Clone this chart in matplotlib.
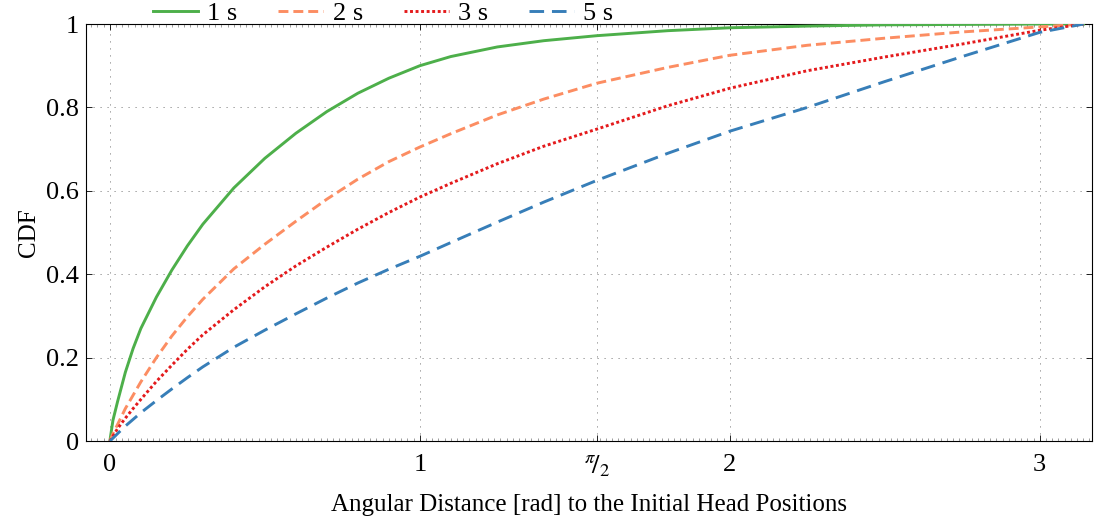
import matplotlib
matplotlib.use("Agg")
import matplotlib.pyplot as plt
import numpy as np
from matplotlib.ticker import MultipleLocator

plt.rcParams["font.family"] = ["Liberation Serif", "DejaVu Serif"]
plt.rcParams["mathtext.fontset"] = "stix"

# angular distance [rad] where the CDFs were read
dist = [0, 0.01, 0.025, 0.05, 0.075, 0.1, 0.15, 0.2, 0.25, 0.3, 0.4, 0.5, 0.6, 0.7,
        0.8, 0.9, 1.0, 1.1, 1.25, 1.4, 1.571, 1.8, 2.0, 2.25, 2.5, 2.75, 3.0, 3.1416]

cdf_1s = [0, 0.05, 0.095, 0.165, 0.222, 0.27, 0.345, 0.41, 0.468, 0.52, 0.607, 0.678,
          0.738, 0.79, 0.834, 0.870, 0.9, 0.922, 0.945, 0.960, 0.972, 0.984, 0.991,
          0.995, 0.998, 0.999, 1.0, 1.0]
cdf_2s = [0, 0.018, 0.04, 0.078, 0.11, 0.142, 0.2, 0.252, 0.298, 0.34, 0.413, 0.472,
          0.527, 0.58, 0.628, 0.67, 0.705, 0.737, 0.782, 0.82, 0.858, 0.896, 0.925,
          0.949, 0.966, 0.981, 0.993, 1.0]
cdf_3s = [0, 0.012, 0.03, 0.055, 0.078, 0.1, 0.143, 0.182, 0.22, 0.255, 0.315, 0.37,
          0.42, 0.465, 0.508, 0.548, 0.585, 0.618, 0.665, 0.707, 0.748, 0.804, 0.846,
          0.888, 0.921, 0.952, 0.985, 1.0]
cdf_5s = [0, 0.007, 0.018, 0.036, 0.052, 0.068, 0.097, 0.125, 0.152, 0.178, 0.225, 0.266,
          0.305, 0.343, 0.379, 0.412, 0.443, 0.476, 0.525, 0.573, 0.625, 0.69, 0.743,
          0.80, 0.862, 0.922, 0.98, 1.0]

labels = ["1 s", "2 s", "3 s", "5 s"]
colors = ["#4daf4a", "#fc8d62", "#e41a1c", "#377eb8"]
styles = ["-", (0, (3.4, 1.7)), (0, (1, 0.9)), (0, (5.0, 2.7))]

xticks = [0, 1, np.pi / 2, 2, 3]
xticklabels = ["0", "1", r"$^{\pi}\!/_{2}$", "2", "3"]
yticks = [0, 0.2, 0.4, 0.6, 0.8, 1]
yticklabels = ["0", "0.2", "0.4", "0.6", "0.8", "1"]

fig = plt.figure(figsize=(10.94, 5.22), dpi=100)
ax = fig.add_axes([0.0786, 0.155, 0.9194, 0.799])

for y, lab, c, ls in zip([cdf_1s, cdf_2s, cdf_3s, cdf_5s], labels, colors, styles):
    ax.plot(dist, y, color=c, linestyle=ls, linewidth=2.1, label=lab, zorder=3)

ax.set_xlim(-0.077, 3.168)
ax.set_ylim(0, 1)
ax.set_xticks(xticks)
ax.set_xticklabels(xticklabels)
ax.set_yticks(yticks)
ax.set_yticklabels(yticklabels)
ax.xaxis.set_minor_locator(MultipleLocator(0.02))

ax.tick_params(axis="both", which="major", direction="in", length=4, width=0.6,
               labelsize=19, top=True, right=True)
ax.tick_params(axis="x", which="major", pad=9)
ax.tick_params(axis="y", which="major", pad=5)
ax.tick_params(axis="x", which="minor", direction="in", length=2, width=0.4,
               top=True, color="#555555")

for s in ax.spines.values():
    s.set_linewidth(0.8)

ax.grid(True, which="major", color="#888888", linewidth=0.7,
        linestyle=(0, (1.2, 6)), zorder=1)

ax.set_xlabel("Angular Distance [rad] to the Initial Head Positions", fontsize=18, labelpad=11)
ax.set_ylabel("CDF", fontsize=18, labelpad=4)

fig.legend(loc="center left", bbox_to_anchor=(0.140, 0.975), ncol=4, frameon=False,
           fontsize=19, handlelength=1.7, handletextpad=0.35, columnspacing=1.55,
           borderpad=0, borderaxespad=0)

fig.savefig("out.png", dpi=100)
